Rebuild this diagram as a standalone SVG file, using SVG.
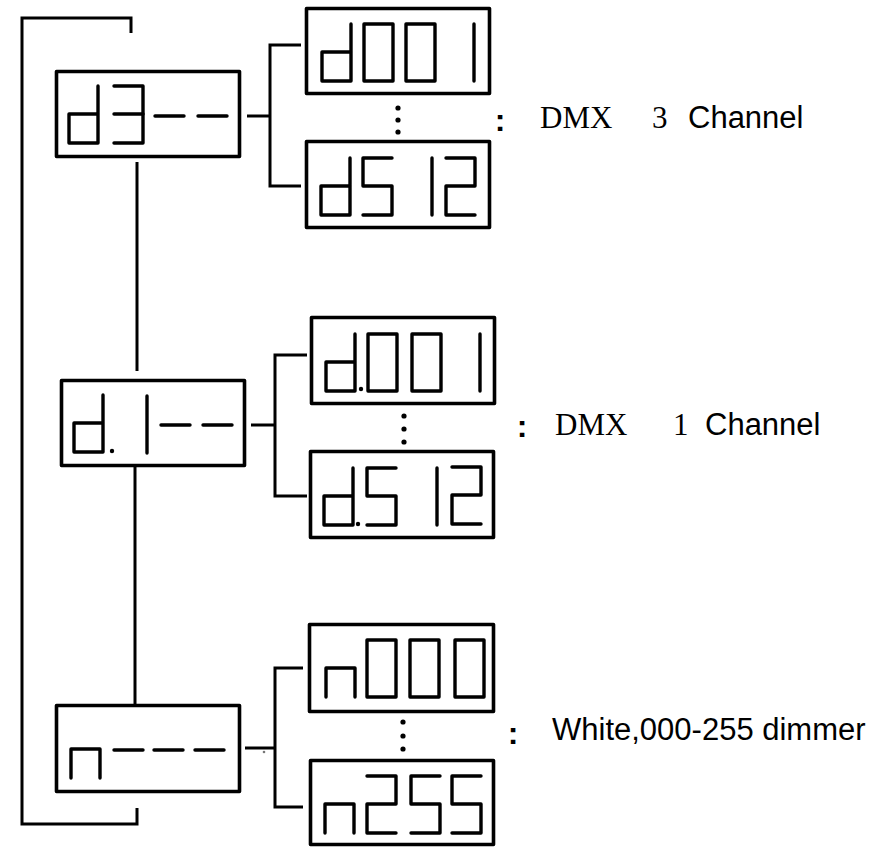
<svg xmlns="http://www.w3.org/2000/svg" xmlns:xlink="http://www.w3.org/1999/xlink" width="890" height="847" viewBox="0 0 890 847">
<style>
.box{fill:#fff;stroke:#000;stroke-width:3.6;stroke-linejoin:round}
.seg{fill:none;stroke:#000;stroke-width:3.4;stroke-linecap:round;stroke-linejoin:round}
.wire{fill:none;stroke:#000;stroke-width:3;stroke-linejoin:miter}
.dot{fill:#000}
.serif{font-family:"Liberation Serif","Times New Roman",serif;font-size:31px;fill:#000}
.sans{font-family:"Liberation Sans",Arial,sans-serif;font-size:31px;fill:#000}
.colon{font-family:"Liberation Sans",Arial,sans-serif;font-size:32px;font-weight:bold;fill:#000}
</style>
<defs>
<g id="g-d"><polyline class="seg" points="29,0 29,57 0,57 0,28 29,28"/></g>
<g id="g-0"><polygon class="seg" points="0,0 29,0 29,57 0,57"/></g>
<g id="g-1"><line class="seg" x1="0" y1="0" x2="0" y2="57"/></g>
<g id="g-2"><polyline class="seg" points="0,0 29,0 29,28 0,28 0,57 29,57"/></g>
<g id="g-3"><polyline class="seg" points="0,0 29,0 29,57 0,57"/><line class="seg" x1="0" y1="28" x2="29" y2="28"/></g>
<g id="g-5"><polyline class="seg" points="29,0 0,0 0,28 29,28 29,57 0,57"/></g>
<g id="g-n"><polyline class="seg" points="0,57 0,28 29,28 29,57"/></g>
<g id="g-dash"><line class="seg" x1="0" y1="28" x2="29" y2="28"/></g>
</defs>
<rect width="890" height="847" fill="#fff"/>

<g id="connectors">
<polyline class="wire" points="131,33 131,18 22,18 22,824 137,824 137,808"/>
<line class="wire" x1="137" y1="162" x2="137" y2="371"/>
<line class="wire" x1="135" y1="467" x2="135" y2="704"/>
<line class="wire" x1="247" y1="116" x2="270" y2="116"/>
<polyline class="wire" points="301,45 270,45 270,186 301,186"/>
<line class="wire" x1="251" y1="425" x2="275" y2="425"/>
<polyline class="wire" points="307,355 275,355 275,496 307,496"/>
<line class="wire" x1="245" y1="748" x2="275" y2="748"/>
<polyline class="wire" points="303,668 275,668 275,807 303,807"/>
<circle cx="264" cy="752" r="1.3" fill="#777"/>
</g>

<g id="node-d3">
<rect class="box" x="56.5" y="71.5" width="183" height="85"/>
<use xlink:href="#g-d" x="69" y="86"/>
<use xlink:href="#g-3" x="114" y="86"/>
<use xlink:href="#g-dash" x="155" y="88"/>
<use xlink:href="#g-dash" x="198" y="88"/>
</g>

<g id="node-d001">
<rect class="box" x="306.5" y="8.5" width="183" height="85"/>
<use xlink:href="#g-d" x="322" y="24"/>
<use xlink:href="#g-0" x="364" y="24"/>
<use xlink:href="#g-0" x="406" y="24"/>
<use xlink:href="#g-1" x="474" y="24"/>
</g>

<g id="node-d512">
<rect class="box" x="306.5" y="141.5" width="183" height="86"/>
<use xlink:href="#g-d" x="321" y="158"/>
<use xlink:href="#g-5" x="363" y="158"/>
<use xlink:href="#g-1" x="432" y="158"/>
<use xlink:href="#g-2" x="446" y="158"/>
</g>

<g id="ellipsis-1">
<circle class="dot" cx="398" cy="108" r="2.6"/>
<circle class="dot" cx="398" cy="120" r="2.6"/>
<circle class="dot" cx="398" cy="132" r="2.6"/>
</g>

<g id="label-1">
<text class="colon" x="500" y="131" text-anchor="middle">:</text>
<text class="serif" x="540" y="128">DMX</text>
<text class="serif" x="652" y="128">3</text>
<text class="sans" x="688" y="128">Channel</text>
</g>

<g id="node-d1">
<rect class="box" x="61.5" y="380.5" width="183" height="85"/>
<use xlink:href="#g-d" x="74" y="395"/>
<circle class="dot" cx="112" cy="451" r="2.2"/>
<use xlink:href="#g-1" x="147" y="396"/>
<use xlink:href="#g-dash" x="161" y="397"/>
<use xlink:href="#g-dash" x="203" y="397"/>
</g>

<g id="node-dp001">
<rect class="box" x="311.5" y="317.5" width="183" height="86"/>
<use xlink:href="#g-d" x="326" y="334"/>
<circle class="dot" cx="361" cy="389" r="2.2"/>
<use xlink:href="#g-0" x="368" y="334"/>
<use xlink:href="#g-0" x="412" y="334"/>
<use xlink:href="#g-1" x="480" y="334"/>
</g>

<g id="node-dp512">
<rect class="box" x="310.5" y="451.5" width="183" height="86"/>
<use xlink:href="#g-d" x="324" y="468"/>
<circle class="dot" cx="358" cy="524" r="2.2"/>
<use xlink:href="#g-5" x="367" y="468"/>
<use xlink:href="#g-1" x="437" y="468"/>
<use xlink:href="#g-2" x="452" y="467"/>
</g>

<g id="ellipsis-2">
<circle class="dot" cx="404" cy="416" r="2.6"/>
<circle class="dot" cx="404" cy="429" r="2.6"/>
<circle class="dot" cx="404" cy="442" r="2.6"/>
</g>

<g id="label-2">
<text class="colon" x="522" y="437" text-anchor="middle">:</text>
<text class="serif" x="555" y="435">DMX</text>
<text class="serif" x="673" y="435">1</text>
<text class="sans" x="705" y="435">Channel</text>
</g>

<g id="node-n">
<rect class="box" x="56.5" y="705.5" width="183" height="86"/>
<use xlink:href="#g-n" x="71" y="721"/>
<use xlink:href="#g-dash" x="114" y="722"/>
<use xlink:href="#g-dash" x="154" y="722"/>
<use xlink:href="#g-dash" x="195" y="722"/>
</g>

<g id="node-n000">
<rect class="box" x="309.5" y="624.5" width="184" height="87"/>
<use xlink:href="#g-n" x="326" y="640"/>
<use xlink:href="#g-0" x="367" y="640"/>
<use xlink:href="#g-0" x="410" y="640"/>
<use xlink:href="#g-0" x="455" y="640"/>
</g>

<g id="node-n255">
<rect class="box" x="310.5" y="760.5" width="183" height="84"/>
<use xlink:href="#g-n" x="325" y="776"/>
<use xlink:href="#g-2" x="367" y="776"/>
<use xlink:href="#g-5" x="411" y="776"/>
<use xlink:href="#g-5" x="452" y="776"/>
</g>

<g id="ellipsis-3">
<circle class="dot" cx="403" cy="722" r="2.6"/>
<circle class="dot" cx="403" cy="736" r="2.6"/>
<circle class="dot" cx="403" cy="749" r="2.6"/>
</g>

<g id="label-3">
<text class="colon" x="513" y="744" text-anchor="middle">:</text>
<text class="sans" x="552" y="740">White,000-255 dimmer</text>
</g>
</svg>
